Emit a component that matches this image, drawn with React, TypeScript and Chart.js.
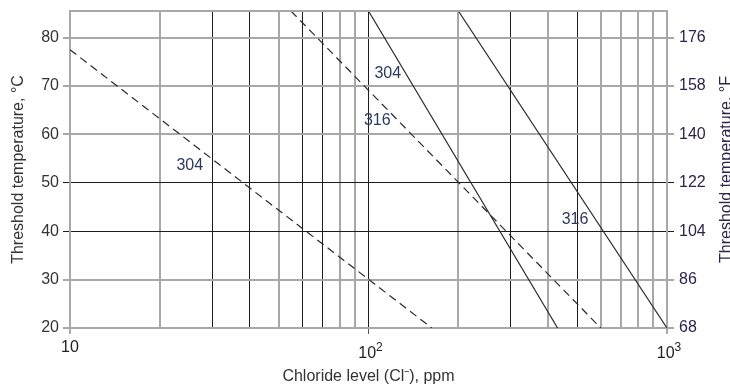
import { useEffect, useRef } from 'react';
import { Chart, registerables } from 'chart.js';

Chart.register(...registerables);

// Axis ticks
const chlorideGridTicks = [10, 20, 30, 40, 50, 60, 70, 80, 90, 100, 200, 300, 400, 500, 600, 700, 800, 900, 1000];
const chlorideLabelValues = [10, 100, 1000];
const chlorideLabelBases = ['10', '10', '10'];
const chlorideLabelExponents = ['', '2', '3'];
const celsiusTicks = [20, 30, 40, 50, 60, 70, 80];
const fahrenheitTicks = [68, 86, 104, 122, 140, 158, 176];
const celsiusMin = 20;
const celsiusMax = 85.5;

// Series (chloride ppm -> threshold temperature °C)
const dashed304Chloride = [10, 163];
const dashed304Temp = [77.5, 20];
const dashed316Chloride = [55, 600];
const dashed316Temp = [85.5, 20];
const solid304Chloride = [100, 430];
const solid304Temp = [85.5, 20];
const solid316Chloride = [200, 1000];
const solid316Temp = [85.5, 20];

// In-chart labels
const noteTexts = ['304', '304', '316', '316'];
const noteChloride = [25.2, 116, 107, 492];
const noteTemp = [53.6, 72.6, 62.8, 42.3];

// Grid styling helpers
const darkChlorideLines = [30, 40, 60, 70, 100, 300, 500];
const darkCelsiusLines = [40, 50];
const darkFahrenheitLines = [104, 122];

const FONT = "'Liberation Sans', Arial, sans-serif";
const DARK = '#1c1c1c';
const GRAY = '#a8a8a8';

const toPoints = (xs: number[], ys: number[]) => xs.map((x, i) => ({ x, y: ys[i] }));

const zeroPad = (s: any) => {
  s.paddingTop = 0;
  s.paddingBottom = 0;
  s.paddingLeft = 0;
  s.paddingRight = 0;
};

const textPlugin = {
  id: 'textPlugin',
  afterDraw(chart: any) {
    const { ctx, chartArea } = chart;
    const xs = chart.scales.x;
    const ys = chart.scales.y;
    ctx.save();
    // top border
    ctx.strokeStyle = GRAY;
    ctx.lineWidth = 2;
    ctx.beginPath();
    ctx.moveTo(chartArea.left - 1, chartArea.top);
    ctx.lineTo(chartArea.right + 1, chartArea.top);
    ctx.stroke();

    // x tick labels with superscripts
    ctx.fillStyle = '#222';
    ctx.textBaseline = 'alphabetic';
    chlorideLabelValues.forEach((v, i) => {
      const px = xs.getPixelForValue(v);
      const base = chlorideLabelBases[i];
      const exp = chlorideLabelExponents[i];
      ctx.font = `16px ${FONT}`;
      const bw = ctx.measureText(base).width;
      if (!exp) {
        ctx.textAlign = 'center';
        ctx.fillText(base, px, 352);
      } else {
        ctx.font = `12px ${FONT}`;
        const ew = ctx.measureText(exp).width;
        const start = px - (bw + ew) / 2 + 2;
        ctx.textAlign = 'left';
        ctx.font = `16px ${FONT}`;
        ctx.fillText(base, start, 358);
        ctx.font = `12px ${FONT}`;
        ctx.fillText(exp, start + bw, 351);
      }
    });

    // axis titles
    ctx.fillStyle = '#333';
    ctx.font = `16px ${FONT}`;
    ctx.textAlign = 'center';
    ctx.textBaseline = 'middle';
    const midX = (chartArea.left + chartArea.right) / 2;
    const midY = (chartArea.top + chartArea.bottom) / 2;
    ctx.fillText('Chloride level (Cl\u207B), ppm', midX, 377);

    ctx.save();
    ctx.translate(19, midY);
    ctx.rotate(-Math.PI / 2);
    ctx.fillText('Threshold temperature, \u00B0C', 0, 0);
    ctx.restore();

    ctx.save();
    ctx.fillStyle = '#2f2448';
    ctx.translate(727, midY);
    ctx.rotate(-Math.PI / 2);
    ctx.fillText('Threshold temperature, \u00B0F', 0, 0);
    ctx.restore();

    // notes
    ctx.fillStyle = '#2b3a5e';
    ctx.font = `16px ${FONT}`;
    noteTexts.forEach((t, i) => {
      ctx.fillText(t, xs.getPixelForValue(noteChloride[i]), ys.getPixelForValue(noteTemp[i]));
    });
    ctx.restore();
  },
};

export default function App() {
  const canvasRef = useRef<HTMLCanvasElement | null>(null);

  useEffect(() => {
    if (!canvasRef.current) return;
    const lineStyle = { borderColor: '#2a2a2a', borderWidth: 1.2, pointRadius: 0, showLine: true, fill: false };
    const chart = new Chart(canvasRef.current, {
      type: 'line',
      data: {
        datasets: [
          { label: '304 dashed', data: toPoints(dashed304Chloride, dashed304Temp), borderDash: [8, 5], ...lineStyle },
          { label: '316 dashed', data: toPoints(dashed316Chloride, dashed316Temp), borderDash: [8, 5], ...lineStyle },
          { label: '304 solid', data: toPoints(solid304Chloride, solid304Temp), ...lineStyle },
          { label: '316 solid', data: toPoints(solid316Chloride, solid316Temp), ...lineStyle },
        ],
      },
      options: {
        animation: false,
        responsive: true,
        maintainAspectRatio: false,
        layout: { padding: { top: 11, left: 0, right: 0, bottom: 0 } },
        plugins: { legend: { display: false }, tooltip: { enabled: false } },
        scales: {
          x: {
            type: 'logarithmic',
            min: 10,
            max: 1000,
            afterBuildTicks: (s: any) => {
              s.ticks = chlorideGridTicks.map((v) => ({ value: v, major: chlorideLabelValues.includes(v) }));
            },
            afterFit: (s: any) => {
              s.height = 57;
              zeroPad(s);
            },
            ticks: { display: false, autoSkip: false },
            grid: {
              color: (c: any) => (darkChlorideLines.includes(c.tick?.value) ? DARK : GRAY),
              lineWidth: (c: any) => (darkChlorideLines.includes(c.tick?.value) ? 1 : 2),
              tickColor: (c: any) => (chlorideLabelValues.includes(c.tick?.value) ? '#555' : 'rgba(0,0,0,0)'),
              tickLength: 6,
              tickWidth: 1,
            },
            border: { color: GRAY, width: 2 },
          },
          y: {
            type: 'linear',
            position: 'left',
            min: celsiusMin,
            max: celsiusMax,
            afterBuildTicks: (s: any) => {
              s.ticks = celsiusTicks.map((v) => ({ value: v }));
            },
            afterFit: (s: any) => {
              s.width = 70;
              zeroPad(s);
            },
            ticks: { font: { family: FONT, size: 16 }, color: '#333', padding: 4, autoSkip: false },
            grid: {
              color: (c: any) => (darkCelsiusLines.includes(c.tick?.value) ? DARK : GRAY),
              lineWidth: (c: any) => (darkCelsiusLines.includes(c.tick?.value) ? 1 : 2),
              tickLength: 7,
            },
            border: { color: GRAY, width: 2 },
          },
          y2: {
            type: 'linear',
            position: 'right',
            min: celsiusMin * 1.8 + 32,
            max: celsiusMax * 1.8 + 32,
            afterBuildTicks: (s: any) => {
              s.ticks = fahrenheitTicks.map((v) => ({ value: v }));
            },
            afterFit: (s: any) => {
              s.width = 63;
              zeroPad(s);
            },
            ticks: { font: { family: FONT, size: 16 }, color: '#2f2448', padding: 5, autoSkip: false },
            grid: {
              drawOnChartArea: false,
              color: (c: any) => (darkFahrenheitLines.includes(c.tick?.value) ? DARK : GRAY),
              lineWidth: (c: any) => (darkFahrenheitLines.includes(c.tick?.value) ? 1 : 2),
              tickLength: 7,
            },
            border: { color: GRAY, width: 2 },
          },
        },
      },
      plugins: [textPlugin],
    } as any);
    return () => chart.destroy();
  }, []);

  return (
    <div style={{ position: 'absolute', left: 0, top: 0, width: 730, height: 385, background: '#fff' }}>
      <canvas ref={canvasRef} />
    </div>
  );
}
